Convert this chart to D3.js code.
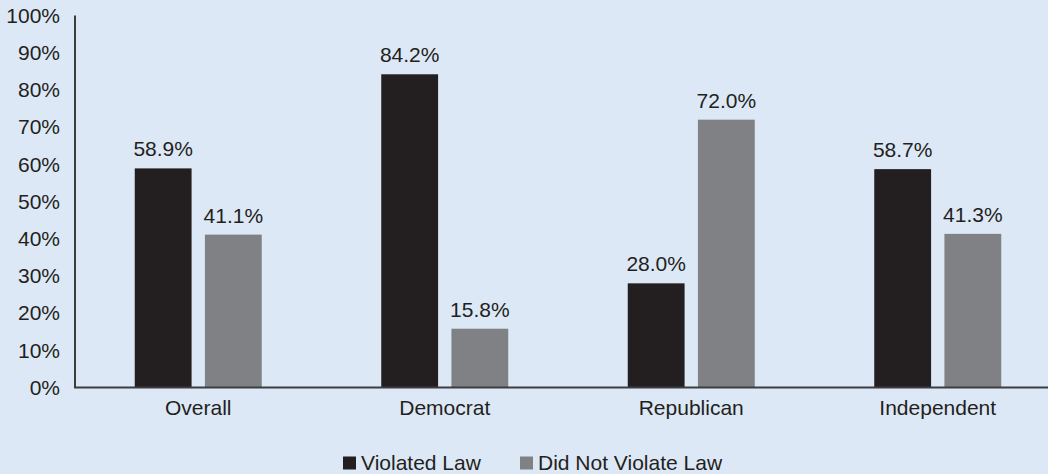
<!DOCTYPE html>
<html>
<head>
<meta charset="utf-8">
<script src="https://cdn.jsdelivr.net/npm/d3@7"></script>
<style>
  html, body { margin: 0; padding: 0; background: #dde8f6; }
  svg { display: block; }
  text { font-family: "Liberation Sans", Arial, Helvetica, sans-serif; fill: #231f20; }
</style>
</head>
<body>
<svg id="chart" width="1048" height="474"></svg>
<script>
// Share of respondents by party who said the action violated the law
const categories = ["Overall", "Democrat", "Republican", "Independent"];
const seriesNames = ["Violated Law", "Did Not Violate Law"];
const violated = [58.9, 84.2, 28.0, 58.7];
const notViolated = [41.1, 15.8, 72.0, 41.3];
const yTicks = [0, 10, 20, 30, 40, 50, 60, 70, 80, 90, 100];

const colors = { "Violated Law": "#231f20", "Did Not Violate Law": "#808184" };

const rows = categories.map((c, i) => ({
  category: c,
  values: [
    { series: seriesNames[0], value: violated[i] },
    { series: seriesNames[1], value: notViolated[i] }
  ]
}));

const svg = d3.select("#chart");
const fontSize = 21;

const y = d3.scaleLinear().domain([0, 100]).range([387.5, 15.5]);
const x0 = d3.scaleBand().domain(categories).range([75, 1061]).padding(0);
const groupWidth = 127;
const x1 = d3.scaleBand().domain(seriesNames).range([0, groupWidth]).paddingInner(0.19).paddingOuter(0);

// Y axis: tick labels only, plus the axis line
const yAxis = svg.append("g").attr("transform", "translate(75,0)")
  .call(d3.axisLeft(y).tickValues(yTicks).tickSize(0).tickPadding(15).tickFormat(d => d + "%"));
yAxis.select(".domain").remove();
yAxis.selectAll("text").style("font-size", fontSize + "px").attr("fill", "#231f20");

svg.append("line")
  .attr("x1", 75).attr("x2", 75)
  .attr("y1", y(100)).attr("y2", y(0))
  .attr("stroke", "#3d3d3f").attr("stroke-width", 2);

// Bars
const groups = svg.append("g").selectAll("g").data(rows).join("g")
  .attr("transform", d => `translate(${x0(d.category) + (x0.bandwidth() - groupWidth) / 2},0)`);

groups.selectAll("rect").data(d => d.values).join("rect")
  .attr("x", d => x1(d.series))
  .attr("width", x1.bandwidth())
  .attr("y", d => y(d.value))
  .attr("height", d => y(0) - y(d.value))
  .attr("fill", d => colors[d.series]);

groups.selectAll("text.val").data(d => d.values).join("text")
  .attr("class", "val")
  .attr("x", d => x1(d.series) + x1.bandwidth() / 2)
  .attr("y", d => y(d.value) - 12)
  .attr("text-anchor", "middle")
  .style("font-size", fontSize + "px")
  .text(d => d.value.toFixed(1) + "%");

// X axis line and category labels
svg.append("line")
  .attr("x1", 74).attr("x2", 1048)
  .attr("y1", y(0)).attr("y2", y(0))
  .attr("stroke", "#3d3d3f").attr("stroke-width", 2);

svg.append("g").selectAll("text").data(categories).join("text")
  .attr("x", d => x0(d) + x0.bandwidth() / 2)
  .attr("y", 415)
  .attr("text-anchor", "middle")
  .style("font-size", fontSize + "px")
  .text(d => d);

// Legend
const legendItems = [
  { name: seriesNames[0], x: 343 },
  { name: seriesNames[1], x: 520 }
];
const legend = svg.append("g").selectAll("g").data(legendItems).join("g")
  .attr("transform", d => `translate(${d.x},0)`);
legend.append("rect")
  .attr("x", 0).attr("y", 456.5).attr("width", 13).attr("height", 13)
  .attr("fill", d => colors[d.name]);
legend.append("text")
  .attr("x", 18).attr("y", 470)
  .style("font-size", fontSize + "px")
  .text(d => d.name);
</script>
</body>
</html>
